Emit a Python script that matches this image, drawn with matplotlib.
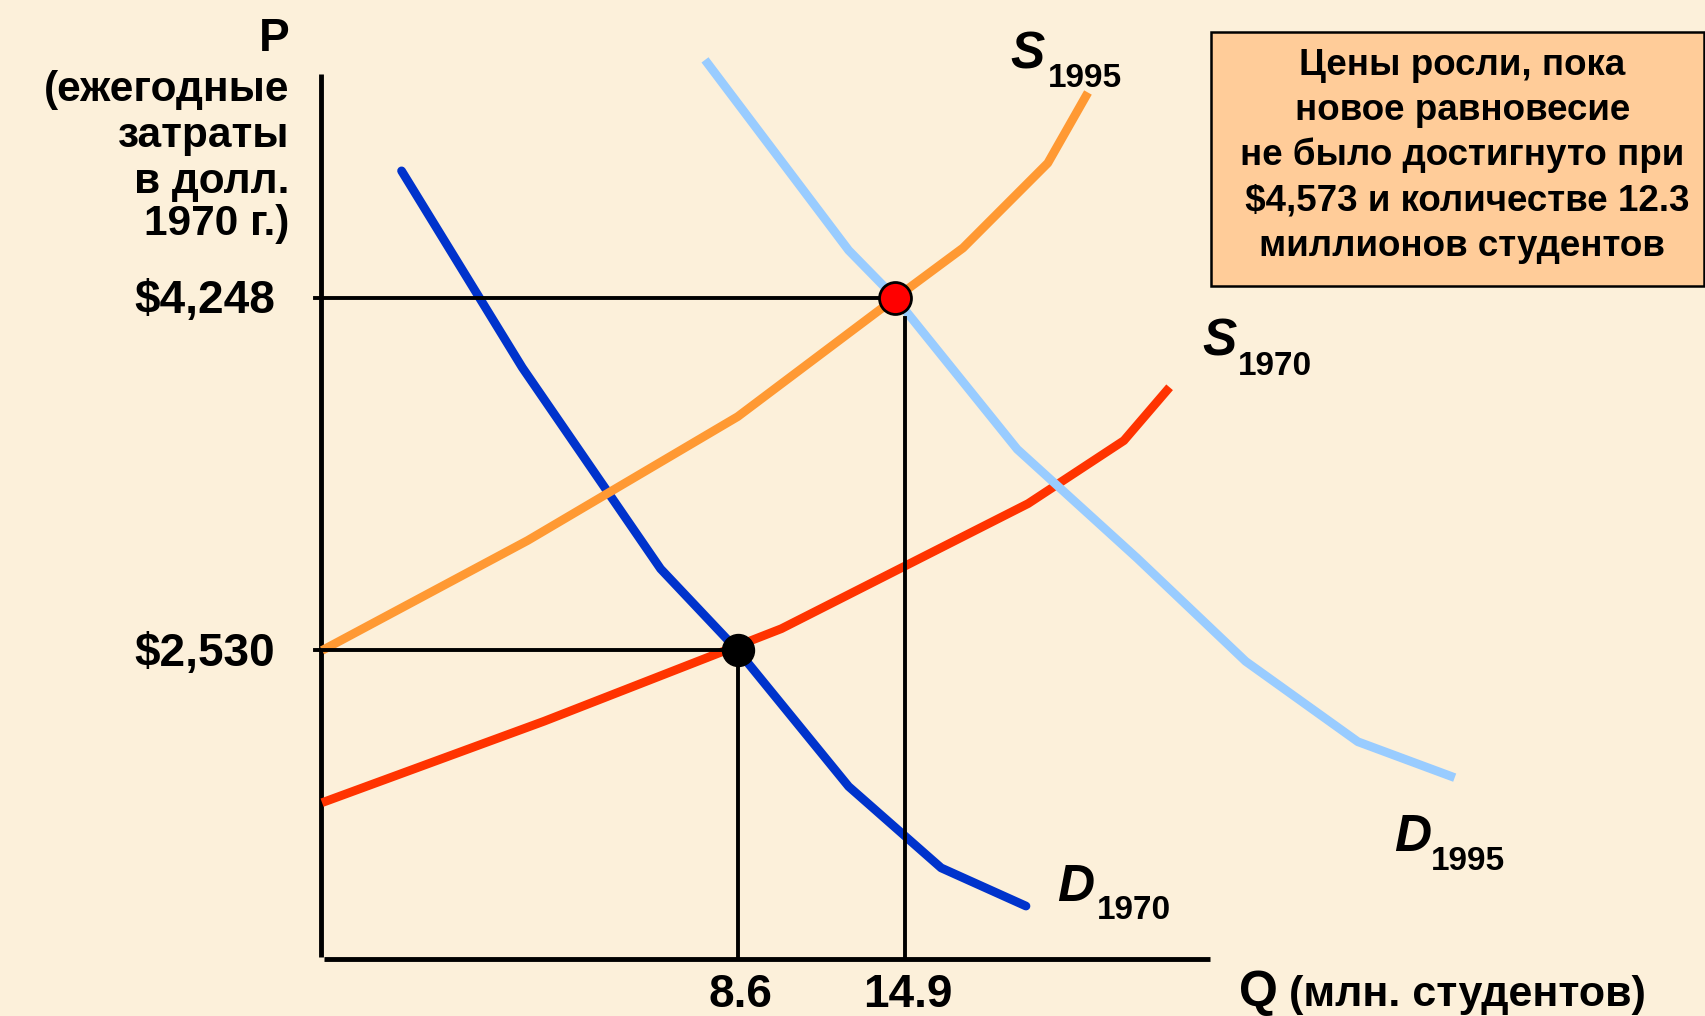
import matplotlib
matplotlib.use("Agg")
import matplotlib.pyplot as plt
from matplotlib.patches import Rectangle

plt.rcParams['font.family'] = ['Liberation Sans', 'DejaVu Sans']
plt.rcParams['font.weight'] = 'bold'

# schematic supply / demand curves, Q in mln students, P in 1970 dollars
d1970_q = [-4.04, 0.50, 5.70, 8.6, 12.77, 16.25, 19.44]
d1970_p = [4868, 3909, 2928, 2530, 1867, 1470, 1284]

s1970_q = [-7.03, 1.32, 10.24, 19.52, 23.12, 24.84]
s1970_p = [1788, 2185, 2636, 3246, 3553, 3813]

s1995_q = [-7.03, 0.70, 8.6, 14.53, 17.07, 20.26, 21.77]
s1995_p = [2530, 3066, 3670, 4248, 4492, 4906, 5250]

d1995_q = [7.37, 12.77, 14.53, 19.11, 23.61, 27.70, 31.92, 35.56]
d1995_p = [5409, 4481, 4248, 3511, 2981, 2477, 2085, 1910]

eq_old = (8.6, 2530)
eq_new = (14.53, 4248)
q_ticks = [8.6, 14.9]
q_tick_labels = ['8.6', '14.9']
p_ticks = [2530, 4248]
p_tick_labels = ['$2,530', '$4,248']

note_lines = ['Цены росли, пока',
              'новое равновесие',
              'не было достигнуто при',
              ' $4,573 и количестве 12.3',
              'миллионов студентов']

BG = '#FCF0DA'
W, H = 1568.0, 934.0  # layout grid of the reference


def at(px, py):
    return px / W, 1 - py / H


fig = plt.figure(figsize=(17.06, 10.16), dpi=100, facecolor=BG)
ax = fig.add_axes([0, 0, 1, 1])
ax.set_facecolor(BG)
ax.set_xlim(-19.14, 45.01)
ax.set_ylim(748, 5701)
ax.axis('off')

q0, p0 = -7.07, 1024  # origin of drawn axes

# axes
ax.plot([q0, q0], [p0 + 11, 5340], color='black', lw=3.5, solid_capstyle='butt', zorder=2)
ax.plot([-6.95, 26.36], [p0, p0], color='black', lw=3.5, solid_capstyle='butt', zorder=2)

# curves
lw = 6.3
ax.plot(d1970_q, d1970_p, color='#0033CC', lw=lw, solid_capstyle='round', zorder=3)
ax.plot(s1970_q, s1970_p, color='#FF3300', lw=lw, solid_capstyle='butt', zorder=3)
ax.plot(d1995_q, d1995_p, color='#99CCFF', lw=lw, solid_capstyle='butt', zorder=3)
ax.plot(s1995_q, s1995_p, color='#FF9933', lw=lw, solid_capstyle='butt', zorder=3)

# guide lines
ax.plot([-7.31, eq_new[0]], [p_ticks[1], p_ticks[1]], color='black', lw=2.8, zorder=4)
ax.plot([-7.31, eq_old[0]], [p_ticks[0], p_ticks[0]], color='black', lw=2.8, zorder=4)
ax.plot([q_ticks[0], q_ticks[0]], [eq_old[1], p0], color='black', lw=2.8, zorder=4)
ax.plot([q_ticks[1], q_ticks[1]], [4150, p0], color='black', lw=2.8, zorder=4)

# equilibrium points
ax.plot(*eq_old, 'o', ms=23, color='black', zorder=5)
ax.plot(*eq_new, 'o', ms=23, mfc='#FF0000', mec='black', mew=2, zorder=5)

# tick labels
for q, lab in zip(q_ticks, q_tick_labels):
    ax.text(q + 0.1, 790, lab, ha='center', va='baseline', fontsize=33)
for p, lab in zip(p_ticks, p_tick_labels):
    ax.text(-8.8, p - 75, lab, ha='right', va='baseline', fontsize=33)

# axis titles
ax.text(*at(266, 47), 'P', transform=ax.transAxes, ha='right', va='baseline', fontsize=33)
for txt, y in zip(['(ежегодные', 'затраты', 'в долл.', '1970 г.)'], [93, 135, 177, 216]):
    ax.text(*at(266, y), txt, transform=ax.transAxes, ha='right', va='baseline', fontsize=30.5)
ax.text(*at(1139, 925), 'Q', transform=ax.transAxes, ha='left', va='baseline', fontsize=36)
ax.text(*at(1185, 925), '(млн. студентов)', transform=ax.transAxes, ha='left',
        va='baseline', fontsize=31)

# curve labels
curve_labels = [('S', '1995', 929, 63, 963, 80),
                ('S', '1970', 1105, 327, 1138, 345),
                ('D', '1970', 972, 828, 1008, 845),
                ('D', '1995', 1281, 782, 1315, 800)]
for big, sub, x1, y1, x2, y2 in curve_labels:
    ax.text(*at(x1, y1), big, transform=ax.transAxes, ha='left', va='baseline',
            fontsize=37, style='italic')
    ax.text(*at(x2, y2), sub, transform=ax.transAxes, ha='left', va='baseline',
            fontsize=24)

# note box
bx0, by0 = at(1113, 263)
bx1, by1 = at(1566.5, 29.5)
ax.add_patch(Rectangle((bx0, by0), bx1 - bx0, by1 - by0, transform=ax.transAxes,
                       facecolor='#FFCC99', edgecolor='black', lw=1.8, zorder=6))
for i, line in enumerate(note_lines):
    ax.text(*at(1344, 69 + i * 41.5), line, transform=ax.transAxes, ha='center',
            va='baseline', fontsize=26.5, zorder=7)

fig.savefig('out.png', dpi=100, facecolor=BG)
